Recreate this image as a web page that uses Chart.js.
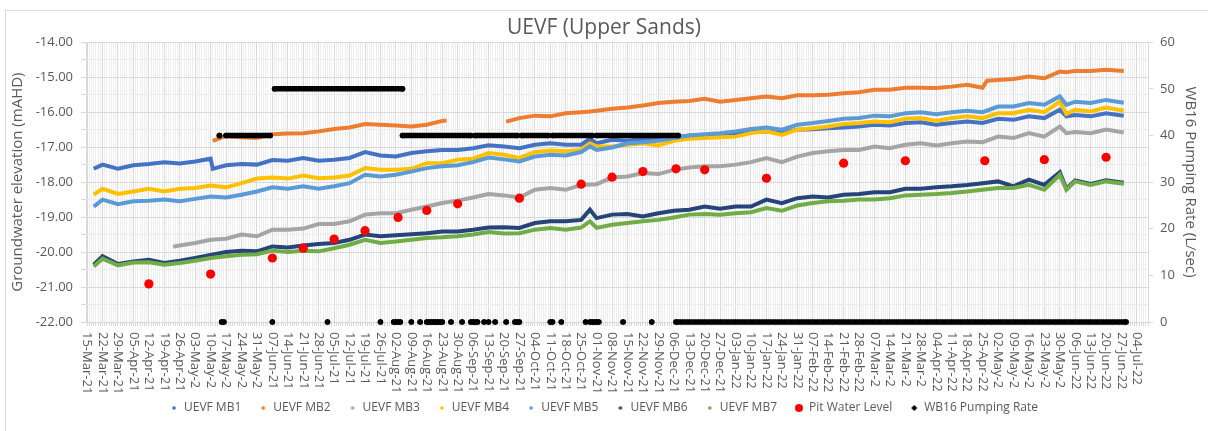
<!DOCTYPE html>
<html>
<head>
<meta charset="utf-8">
<script src="https://cdn.jsdelivr.net/npm/chart.js@4/dist/chart.umd.min.js"></script>
<style>
  html, body { margin: 0; padding: 0; background: #fff; }
  #wrap { position: relative; width: 1208px; height: 431px; }
  #frame { position: absolute; left: 5px; top: 10px; right: 0; bottom: 0; border-top: 1px solid #d9d9d9; border-left: 1px solid #d9d9d9; }
  canvas { position: absolute; left: 0; top: 0; }
</style>
</head>
<body>
<div id="wrap"><div id="frame"></div><canvas id="chart" width="1208" height="431"></canvas></div>
<script>
// day 0 = 15-Mar-21
const weekLabels = ["15-Mar-21","22-Mar-21","29-Mar-21","05-Apr-21","12-Apr-21","19-Apr-21","26-Apr-21",
  "03-May-2","10-May-2","17-May-2","24-May-2","31-May-2","07-Jun-21","14-Jun-21","21-Jun-21","28-Jun-21",
  "05-Jul-21","12-Jul-21","19-Jul-21","26-Jul-21","02-Aug-21","09-Aug-21","16-Aug-21","23-Aug-21","30-Aug-21",
  "06-Sep-21","13-Sep-21","20-Sep-21","27-Sep-21","04-Oct-21","11-Oct-21","18-Oct-21","25-Oct-21","01-Nov-21",
  "08-Nov-21","15-Nov-21","22-Nov-21","29-Nov-21","06-Dec-21","13-Dec-21","20-Dec-21","27-Dec-21","03-Jan-22",
  "10-Jan-22","17-Jan-22","24-Jan-22","31-Jan-22","07-Feb-22","14-Feb-22","21-Feb-22","28-Feb-22","07-Mar-2",
  "14-Mar-2","21-Mar-2","28-Mar-2","04-Apr-22","11-Apr-22","18-Apr-22","25-Apr-22","02-May-2","09-May-2",
  "16-May-2","23-May-2","30-May-2","06-Jun-22","13-Jun-22","20-Jun-22","27-Jun-22","04-Jul-22"];

const days = [3,7,14,21,28,35,39,42,49,56,57,
  63,70,77,84,91,98,105,112,119,126,
  133,140,147,154,161,163,168,175,182,189,190,
  196,203,210,217,224,228,231,238,245,252,
  259,266,273,280,287,294,301,308,315,322,
  329,336,343,350,357,364,371,378,385,392,
  399,406,408,413,420,427,434,441,444,448,455,462,470];

const mb1 = [-17.62,-17.50,-17.62,-17.52,-17.48,-17.43,null,-17.47,-17.41,-17.33,-17.62,
  -17.52,-17.48,-17.50,-17.37,-17.39,-17.31,-17.39,-17.36,-17.31,-17.14,
  -17.24,-17.27,-17.17,-17.12,-17.08,null,-17.08,-17.03,-16.95,-16.98,null,
  -17.03,-16.93,-16.89,-16.93,-16.93,-16.76,-16.89,-16.79,-16.82,-16.76,
  -16.79,-16.72,-16.67,-16.65,-16.65,-16.63,-16.57,-16.55,-16.60,-16.50,
  -16.49,-16.46,-16.44,-16.41,-16.36,-16.38,-16.31,-16.29,-16.36,-16.31,
  -16.27,-16.31,null,-16.19,-16.22,-16.12,-16.17,-15.93,-16.12,-16.08,-16.12,-16.03,-16.10];

const mb2 = [null,null,null,null,null,null,null,null,null,null,-16.82,
  -16.68,-16.72,-16.74,-16.63,-16.61,-16.60,-16.55,-16.48,-16.44,-16.34,
  -16.36,-16.38,-16.41,-16.36,-16.25,-16.24,null,null,null,null,-16.27,
  -16.17,-16.10,-16.12,-16.03,-16.00,-15.98,-15.96,-15.90,-15.87,-15.81,
  -15.74,-15.70,-15.68,-15.62,-15.70,-15.65,-15.60,-15.55,-15.60,-15.52,
  -15.52,-15.50,-15.46,-15.43,-15.36,-15.36,-15.30,-15.30,-15.31,-15.27,
  -15.22,-15.30,-15.10,-15.08,-15.05,-14.98,-15.03,-14.84,-14.86,-14.82,-14.82,-14.79,-14.82];

const mb3 = [null,null,null,null,null,null,-19.85,-19.81,-19.74,-19.65,null,
  -19.62,-19.50,-19.55,-19.36,-19.36,-19.33,-19.20,-19.20,-19.12,-18.93,
  -18.89,-18.89,-18.79,-18.70,-18.60,null,-18.53,-18.44,-18.34,-18.38,null,
  -18.44,-18.22,-18.17,-18.22,-18.08,null,-18.06,-17.87,-17.84,-17.74,
  -17.77,-17.65,-17.58,-17.55,-17.55,-17.50,-17.43,-17.31,-17.43,-17.27,
  -17.17,-17.12,-17.08,-17.08,-16.98,-17.03,-16.93,-16.89,-16.95,-16.89,
  -16.84,-16.86,null,-16.70,-16.74,-16.60,-16.70,-16.41,-16.60,-16.57,-16.60,-16.50,-16.58];

const mb4 = [-18.36,-18.19,-18.34,-18.27,-18.19,-18.27,null,-18.19,-18.17,-18.10,null,
  -18.15,-18.03,-17.90,-17.87,-17.90,-17.81,-17.89,-17.87,-17.81,-17.60,
  -17.65,-17.65,-17.62,-17.46,-17.46,null,-17.36,-17.33,-17.17,-17.22,null,
  -17.31,-17.14,-17.10,-17.12,-17.08,-16.90,-16.98,-16.98,-16.93,-16.89,
  -16.95,-16.82,-16.76,-16.74,-16.72,-16.70,-16.60,-16.55,-16.65,-16.50,
  -16.46,-16.41,-16.34,-16.31,-16.27,-16.29,-16.19,-16.17,-16.25,-16.17,
  -16.12,-16.17,null,-16.03,-16.03,-15.93,-16.00,-15.70,-16.05,-15.93,-15.98,-15.87,-15.96];

const mb5 = [-18.70,-18.50,-18.63,-18.55,-18.53,-18.50,null,-18.55,-18.48,-18.41,null,
  -18.44,-18.36,-18.27,-18.15,-18.19,-18.12,-18.19,-18.12,-18.03,-17.79,
  -17.84,-17.79,-17.70,-17.60,-17.55,null,-17.52,-17.43,-17.30,-17.35,null,
  -17.41,-17.27,-17.22,-17.24,-17.14,-16.98,-17.08,-17.01,-16.89,-16.86,
  -16.82,-16.74,-16.67,-16.63,-16.60,-16.55,-16.48,-16.44,-16.50,-16.36,
  -16.31,-16.25,-16.19,-16.17,-16.10,-16.12,-16.03,-16.00,-16.06,-16.00,
  -15.96,-16.00,null,-15.84,-15.84,-15.74,-15.79,-15.55,-15.79,-15.70,-15.74,-15.65,-15.73];

const mb6 = [-20.36,-20.12,-20.34,-20.27,-20.22,-20.31,null,-20.25,-20.17,-20.08,null,
  -20.00,-19.96,-19.98,-19.84,-19.87,-19.81,-19.77,-19.74,-19.65,-19.50,
  -19.55,-19.52,-19.49,-19.46,-19.41,null,-19.41,-19.36,-19.30,-19.29,null,
  -19.31,-19.17,-19.12,-19.12,-19.08,-18.79,-19.03,-18.93,-18.91,-18.98,
  -18.89,-18.82,-18.79,-18.70,-18.76,-18.70,-18.70,-18.50,-18.60,-18.46,
  -18.41,-18.44,-18.36,-18.34,-18.29,-18.29,-18.19,-18.19,-18.15,-18.12,
  -18.08,-18.03,null,-17.98,-18.12,-17.93,-18.08,-17.72,-18.19,-17.95,-18.05,-17.95,-18.02];

const mb7 = [-20.41,-20.19,-20.38,-20.30,-20.29,-20.36,null,-20.31,-20.25,-20.17,null,
  -20.12,-20.08,-20.06,-19.96,-20.00,-19.96,-19.98,-19.89,-19.79,-19.65,
  -19.74,-19.70,-19.65,-19.60,-19.58,null,-19.55,-19.50,-19.43,-19.47,null,
  -19.46,-19.36,-19.31,-19.36,-19.30,-19.12,-19.31,-19.22,-19.17,-19.12,
  -19.08,-19.01,-18.93,-18.91,-18.93,-18.89,-18.86,-18.74,-18.82,-18.67,
  -18.60,-18.55,-18.53,-18.50,-18.50,-18.46,-18.38,-18.36,-18.34,-18.31,
  -18.27,-18.22,null,-18.17,-18.17,-18.08,-18.22,-17.79,-18.22,-17.98,-18.08,-17.98,-18.05];

const pitDays = [28,56,84,98,112,126,141,154,168,196,224,238,252,267,280,308,343,371,407,434,462];
const pitLevel = [-20.91,-20.63,-20.17,-19.89,-19.63,-19.39,-19.01,-18.81,-18.62,-18.46,-18.06,
  -17.86,-17.70,-17.62,-17.65,-17.89,-17.46,-17.39,-17.39,-17.36,-17.29];

// pumping runs (L/sec) and single days at zero
const pumpRunStart = [60,63,85,143,176,197,211,231,267];
const pumpRunEnd   = [60,83,143,174,195,209,229,268,471];
const pumpRunRate  = [40,40,50,40,40,40,40,40,0];
const pumpOffDays = [61,62,84,109,133,139,140,141,142,147,151,154,155,156,157,158,159,160,161,165,
  170,174,175,176,177,180,182,185,190,194,195,196,210,211,215,226,228,229,230,231,232,243,256];

Chart.defaults.font.family = "'Open Sans', sans-serif";
Chart.defaults.color = '#595959';

function marker(color, shape, r) {
  const c = document.createElement('canvas');
  c.width = 12; c.height = 12;
  const g = c.getContext('2d');
  g.fillStyle = color;
  g.beginPath();
  if (shape === 'square') g.rect(6 - r, 6 - r, 2 * r, 2 * r);
  else if (shape === 'diamond') { g.moveTo(6, 6 - r); g.lineTo(6 + r, 6); g.lineTo(6, 6 + r); g.lineTo(6 - r, 6); g.closePath(); }
  else g.arc(6, 6, r, 0, Math.PI * 2);
  g.fill();
  return c;
}

function mbSet(label, values, color, idx, shape) {
  return {
    label: label,
    data: days.map((d, i) => ({ x: d, y: values[i] })),
    borderColor: color, backgroundColor: color,
    borderWidth: 4, pointRadius: 0, tension: 0,
    spanGaps: label !== 'UEVF MB2',
    order: 20 - idx, yAxisID: 'y',
    legendMarker: marker(color, shape || 'circle', shape === 'square' ? 1.6 : 1.8)
  };
}

const pumpPoints = [];
pumpRunStart.forEach((s, i) => {
  pumpPoints.push({ x: s, y: pumpRunRate[i] }, { x: pumpRunEnd[i], y: pumpRunRate[i] }, { x: pumpRunEnd[i], y: null });
});
pumpOffDays.forEach(d => { pumpPoints.push({ x: d, y: 0 }, { x: d, y: null }); });

const tickDays = [];
for (let d = 0; d <= 481; d++) tickDays.push(d);

const xLabels = {
  id: 'xLabels',
  afterDraw(chart) {
    const { ctx, chartArea } = chart;
    const x = chart.scales.x;
    ctx.save();
    ctx.font = "13px 'Open Sans'";
    ctx.fillStyle = '#595959';
    ctx.textAlign = 'left';
    ctx.textBaseline = 'middle';
    weekLabels.forEach((t, i) => {
      ctx.save();
      ctx.translate(x.getPixelForValue(i * 7), chartArea.bottom + 10);
      ctx.rotate(Math.PI / 2);
      ctx.fillText(t, 0, 0);
      ctx.restore();
    });
    ctx.restore();
  }
};

new Chart(document.getElementById('chart'), {
  type: 'line',
  data: {
    datasets: [
      mbSet('UEVF MB1', mb1, '#4472C4', 0),
      mbSet('UEVF MB2', mb2, '#ED7D31', 1, 'square'),
      mbSet('UEVF MB3', mb3, '#A5A5A5', 2),
      mbSet('UEVF MB4', mb4, '#FFC000', 3),
      mbSet('UEVF MB5', mb5, '#5B9BD5', 4),
      mbSet('UEVF MB6', mb6, '#264478', 5),
      mbSet('UEVF MB7', mb7, '#70AD47', 6),
      {
        label: 'Pit Water Level',
        data: pitDays.map((d, i) => ({ x: d, y: pitLevel[i] })),
        showLine: false, pointRadius: 4.6, pointBorderWidth: 0,
        pointBackgroundColor: '#FF0000', borderColor: '#FF0000', backgroundColor: '#FF0000',
        order: 2, yAxisID: 'y', legendMarker: marker('#FF0000', 'circle', 4)
      },
      {
        label: 'WB16 Pumping Rate',
        data: pumpPoints,
        borderColor: '#000', backgroundColor: '#000', borderWidth: 5.5, borderCapStyle: 'round',
        pointRadius: 2.8, pointBorderWidth: 0, pointBackgroundColor: '#000',
        spanGaps: false, clip: false, tension: 0,
        order: 1, yAxisID: 'y2', legendMarker: marker('#000', 'diamond', 3)
      }
    ]
  },
  options: {
    responsive: false,
    animation: false,
    layout: { padding: { left: 0, right: 0, top: 0, bottom: 7 } },
    plugins: {
      tooltip: { enabled: false },
      title: {
        display: true, text: 'UEVF (Upper Sands)', color: '#595959',
        font: { size: 21, weight: 'normal' }, padding: { top: 15, bottom: 2 }
      },
      legend: {
        position: 'bottom',
        labels: {
          usePointStyle: true, boxWidth: 8, boxHeight: 8, padding: 18,
          font: { size: 12 }, color: '#595959',
          generateLabels: chart => {
            const items = Chart.defaults.plugins.legend.labels.generateLabels(chart);
            items.sort((a, b) => a.datasetIndex - b.datasetIndex);
            items.forEach(it => { it.pointStyle = chart.data.datasets[it.datasetIndex].legendMarker; });
            return items;
          }
        }
      }
    },
    scales: {
      x: {
        type: 'linear', min: -0.5, max: 481,
        afterBuildTicks: s => { s.ticks = tickDays.map(v => ({ value: v })); },
        afterFit: s => { s.height = 62; },
        ticks: { display: false, autoSkip: false },
        grid: {
          color: c => (c.tick && c.tick.value % 7 === 0) ? '#d9d9d9' : '#eeeeee',
          tickLength: 4, tickColor: '#d9d9d9'
        },
        border: { color: '#d9d9d9' }
      },
      y: {
        position: 'left', min: -22, max: -14,
        afterFit: s => { s.width = 86; },
        ticks: {
          stepSize: 0.5, autoSkip: false, padding: 8, font: { size: 13 },
          callback: v => Number.isInteger(v) ? v.toFixed(2) : ''
        },
        grid: {
          color: c => (c.tick && Number.isInteger(c.tick.value)) ? '#d9d9d9' : '#ececec',
          tickLength: 5, tickColor: '#d9d9d9'
        },
        border: { color: '#d9d9d9' },
        title: { display: true, text: 'Groundwater elevation (mAHD)', font: { size: 15 }, padding: { top: 9, bottom: 0 } }
      },
      y2: {
        position: 'right', min: 0, max: 60,
        afterFit: s => { s.width = 60; },
        ticks: { stepSize: 10, padding: 7, font: { size: 13 } },
        grid: { drawOnChartArea: false, tickLength: 5, color: '#d9d9d9' },
        border: { color: '#d9d9d9' },
        title: { display: true, text: 'WB16 Pumping Rate (L/sec)', font: { size: 15 }, padding: { top: 9, bottom: 0 } }
      }
    }
  },
  plugins: [xLabels]
});
</script>
</body>
</html>
